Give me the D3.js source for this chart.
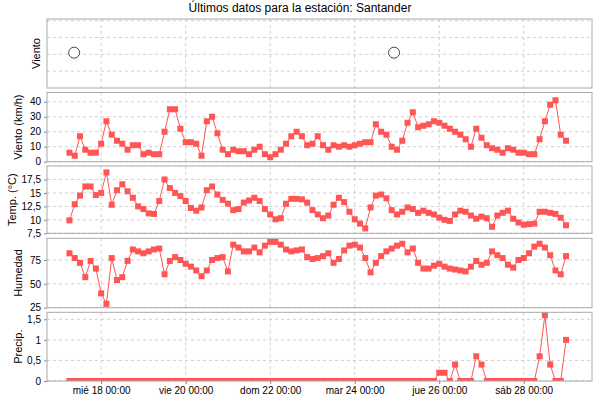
<!DOCTYPE html>
<html>
<head>
<meta charset="utf-8">
<script src="https://cdn.jsdelivr.net/npm/d3@7"></script>
<style>
  body { margin: 0; background: #fff; }
  text { font-family: "Liberation Sans", Arial, sans-serif; }
</style>
</head>
<body>
<div id="chart-area"></div>
<script>
// data: one reading every 3 hours from 17 Mar 06:00 (UTC)
var startTime = Date.UTC(2020, 2, 17, 6);
var stepHours = 3;

var windSpeed = [6,4,17,8,6,6,12,27,18,14,12,8,11,11,5,6,5,5,20,35,35,22,13,13,12,4,27,30,19,8,
  5,8,7,7,5,8,10,5,3,5,8,12,17,20,17,11,12,17,11,8,11,10,11,10,11,12,13,13,25,20,
  18,10,8,14,26,33,23,24,25,27,26,24,22,20,18,15,10,22,16,11,9,8,6,9,8,6,6,5,5,15,
  27,38,41,18,14];

var temperature = [9.9,12.9,14.5,16.2,16.2,14.6,15,18.8,12.8,15.5,16.6,15.3,14.1,12.5,12,11.2,11.1,13.5,17.5,15.9,
  15,14.4,13.5,12.2,11.7,12.3,15.5,16.2,14.7,13.7,13,11.8,12,13.2,13.6,14.1,13.5,12,11,10.1,
  10.3,13,13.9,13.9,13.8,13.2,11.8,11,10.3,10.8,12.8,14.1,13.3,11.5,10.1,9.3,8.4,12.3,14.5,14.7,
  14,11.8,11,11.5,12.3,12,11.3,11.7,11.3,11,10.4,10,9.8,11,11.7,11.5,10.8,10.2,10.6,10.3,
  8.7,10.8,11.3,11.7,10.2,9.5,9.1,9.2,9.3,11.5,11.5,11.3,11.1,10.4,9];

var humidity = [82,77,72,57,74,66,40,29,77,54,57,74,86,84,82,84,86,87,60,74,
  78,75,71,68,64,58,64,75,77,78,63,91,88,84,84,88,83,90,94,94,
  91,86,84,85,86,78,76,77,79,82,72,76,85,90,91,88,77,62,72,79,
  84,87,90,92,83,87,72,66,66,69,71,68,66,65,64,63,68,74,70,72,
  84,80,77,70,67,75,77,82,89,92,88,80,64,60,79];

var precip = [0,0,0,0,0,0,0,0,0,0,0,0,0,0,0,0,0,0,0,0,
  0,0,0,0,0,0,0,0,0,0,0,0,0,0,0,0,0,0,0,0,
  0,0,0,0,0,0,0,0,0,0,0,0,0,0,0,0,0,0,0,0,
  0,0,0,0,0,0,0,0,0,0,0.2,0.2,0,0.4,0,0,0,0.6,0.4,0,
  0,0,0,0,0,0,0,0,0,0.6,1.6,0.4,0,0,1];

// wind direction panel: only two readings, drawn as hollow circles
var dirTimes = [Date.UTC(2020, 2, 17, 8, 40), Date.UTC(2020, 2, 24, 22, 20)];
var dirValues = [2.1, 2.1];

var xTicks = [18, 20, 22, 24, 26, 28].map(function(d) { return new Date(Date.UTC(2020, 2, d)); });
var dayNames = ["dom", "lun", "mar", "mié", "jue", "vie", "sáb"];

var times = windSpeed.map(function(d, i) { return new Date(startTime + i * stepHours * 3600000); });

var svgWidth = 600, svgHeight = 400, left = 47, right = 592;
var red = "#ff5555";

var svg = d3.select("#chart-area").append("svg")
  .attr("width", svgWidth).attr("height", svgHeight);

svg.append("text")
  .attr("x", 300).attr("y", 12)
  .attr("text-anchor", "middle")
  .attr("font-size", 12)
  .text("Últimos datos para la estación: Santander");

var x = d3.scaleUtc()
  .domain([new Date(Date.UTC(2020, 2, 16, 17, 15)), new Date(Date.UTC(2020, 2, 29, 14, 45))])
  .range([left, right]);

var fmtNum = function(d) { return String(d).replace(".", ","); };

var panels = [
  { top: 19, bottom: 88, domain: [0, 4.1], ticks: [1, 2, 3, 4], label: "Viento", labelX: 40, showTicks: false },
  { top: 92.5, bottom: 161.7, domain: [0, 46.2], ticks: [0, 10, 20, 30, 40], label: "Viento (km/h)", labelX: 22, values: windSpeed },
  { top: 166, bottom: 233.3, domain: [7.5, 20], ticks: [7.5, 10, 12.5, 15, 17.5], label: "Temp. (°C)", labelX: 16, values: temperature },
  { top: 238.3, bottom: 307.7, domain: [25, 97.7], ticks: [25, 50, 75], label: "Humedad", labelX: 22, values: humidity },
  { top: 312.3, bottom: 381, domain: [0, 1.67], ticks: [0, 0.5, 1, 1.5], label: "Precip.", labelX: 22, values: precip }
];

panels.forEach(function(p, k) {
  var y = d3.scaleLinear().domain(p.domain).range([p.bottom, p.top]);
  var g = svg.append("g");

  // grid
  g.selectAll(".vgrid").data(xTicks).enter().append("line")
    .attr("x1", function(d) { return x(d); }).attr("x2", function(d) { return x(d); })
    .attr("y1", p.top).attr("y2", p.bottom)
    .attr("stroke", "#d0d0d0").attr("stroke-dasharray", "3,3");
  g.selectAll(".hgrid").data(p.ticks).enter().append("line")
    .attr("x1", left).attr("x2", right)
    .attr("y1", function(d) { return y(d); }).attr("y2", function(d) { return y(d); })
    .attr("stroke", "#d0d0d0").attr("stroke-dasharray", "3,3");

  // y axis
  if (p.showTicks !== false) {
    var yAxis = g.append("g")
      .attr("transform", "translate(" + left + ",0)")
      .call(d3.axisLeft(y).tickValues(p.ticks).tickSize(3).tickPadding(3).tickFormat(fmtNum));
    yAxis.select(".domain").remove();
    yAxis.selectAll("text").attr("font-size", 10).attr("font-family", "Liberation Sans, Arial, sans-serif");
    yAxis.selectAll("line").attr("stroke", "#888");
  }

  g.append("text")
    .attr("transform", "translate(" + p.labelX + "," + ((p.top + p.bottom) / 2) + ") rotate(-90)")
    .attr("text-anchor", "middle")
    .attr("font-size", 11)
    .text(p.label);

  if (p.values) {
    var clipId = "clip" + k;
    svg.append("clipPath").attr("id", clipId).append("rect")
      .attr("x", left).attr("y", p.top - 4).attr("width", right - left).attr("height", p.bottom - p.top + 4);
    var marks = g.append("g").attr("clip-path", "url(#" + clipId + ")");
    var line = d3.line()
      .x(function(d, i) { return x(times[i]); })
      .y(function(d) { return y(d); });
    marks.append("path").datum(p.values)
      .attr("d", line).attr("fill", "none").attr("stroke", red).attr("stroke-width", 1);
    marks.selectAll("rect").data(p.values).enter().append("rect")
      .attr("x", function(d, i) { return x(times[i]) - 3; })
      .attr("y", function(d) { return y(d) - 3; })
      .attr("width", 6).attr("height", 6)
      .attr("fill", red);
  } else {
    g.selectAll("circle").data(dirValues).enter().append("circle")
      .attr("cx", function(d, i) { return x(new Date(dirTimes[i])); })
      .attr("cy", function(d) { return y(d); })
      .attr("r", 5.5)
      .attr("fill", "#fff").attr("stroke", "#444").attr("stroke-width", 1);
  }

  // frame
  g.append("rect")
    .attr("x", left).attr("y", p.top)
    .attr("width", right - left).attr("height", p.bottom - p.top)
    .attr("fill", "none").attr("stroke", "#aaa");
});

// time axis below the last panel
var xAxis = svg.append("g")
  .attr("transform", "translate(0,381)")
  .call(d3.axisBottom(x).tickValues(xTicks).tickSize(3).tickPadding(3)
    .tickFormat(function(d) { return dayNames[d.getUTCDay()] + " " + d3.utcFormat("%d %H:%M")(d); }));
xAxis.select(".domain").remove();
xAxis.selectAll("text").attr("font-size", 10).attr("font-family", "Liberation Sans, Arial, sans-serif");
xAxis.selectAll("line").attr("stroke", "#888");
</script>
</body>
</html>
